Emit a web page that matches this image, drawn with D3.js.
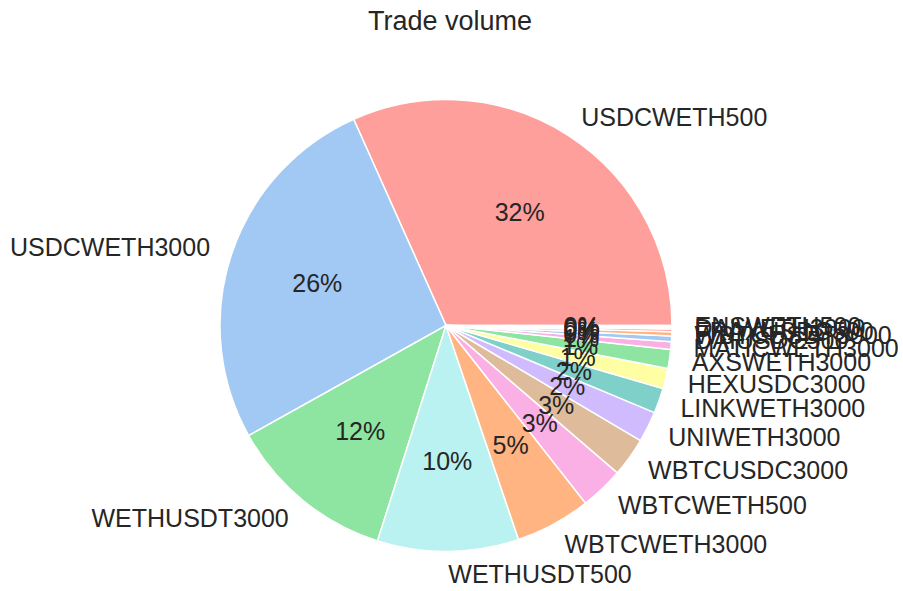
<!DOCTYPE html>
<html>
<head>
<meta charset="utf-8">
<script src="https://cdn.jsdelivr.net/npm/d3@7"></script>
<style>
  body { margin: 0; background: #fff; }
  text { font-family: "Liberation Sans", Arial, sans-serif; fill: #262626; }
</style>
</head>
<body>
<div id="chart"></div>
<script>
const WIDTH = 903
const HEIGHT = 591
const CX = 446, CY = 325.5, R = 226

// data (percent of total trade volume)
const pools = ['USDCWETH500', 'USDCWETH3000', 'WETHUSDT3000', 'WETHUSDT500', 'WBTCWETH3000',
  'WBTCWETH500', 'WBTCUSDC3000', 'UNIWETH3000', 'LINKWETH3000', 'HEXUSDC3000', 'AXSWETH3000',
  'MATICWETH3000', 'DAIUSDC500', 'WBTCUSDT3000', 'FRAXUSDC500', 'DAIWETH3000', 'ENSWETH500']
const volumes = [31.7, 26.4, 12.0, 10.1, 5.4, 3.1, 2.8, 2.2, 1.8, 1.45, 1.36,
  0.55, 0.4, 0.3, 0.2, 0.14, 0.1]
const colors = ['#ff9f9b', '#a1c9f4', '#8de5a1', '#b9f2f0', '#ffb482', '#fab0e4', '#debb9b',
  '#d0bbff', '#7fd0c8', '#fffea3', '#8de5a1', '#fab0e4', '#a1c9f4', '#ffb482', '#ff9f9b',
  '#b9f2f0', '#cfcfcf']

const data = pools.map((p, i) => ({ pool: p, volume: volumes[i] }))
const total = d3.sum(volumes)

const svg = d3.select('#chart').append('svg')
  .attr('width', WIDTH)
  .attr('height', HEIGHT)

svg.append('text')
  .attr('x', 450)
  .attr('y', 21)
  .attr('text-anchor', 'middle')
  .attr('dominant-baseline', 'central')
  .attr('font-size', '27px')
  .text('Trade volume')

const g = svg.append('g').attr('transform', `translate(${CX}, ${CY})`)

// start at 3 o'clock, counterclockwise like matplotlib
const pie = d3.pie()
  .value(d => d.volume)
  .sort(null)
  .startAngle(Math.PI / 2)
  .endAngle(Math.PI / 2 - 2 * Math.PI)

const arcs = pie(data)
const arc = d3.arc().innerRadius(0).outerRadius(R)

g.selectAll('path.slice')
  .data(arcs)
  .enter().append('path')
  .attr('class', 'slice')
  .attr('d', arc)
  .attr('fill', (d, i) => colors[i])
  .attr('stroke', '#fff')
  .attr('stroke-width', 1.5)

const mid = d => (d.startAngle + d.endAngle) / 2

// pool labels at 1.1 r
g.selectAll('text.label')
  .data(arcs)
  .enter().append('text')
  .attr('class', 'label')
  .attr('x', d => Math.sin(mid(d)) * R * 1.1)
  .attr('y', d => -Math.cos(mid(d)) * R * 1.1)
  .attr('text-anchor', d => Math.sin(mid(d)) > 0 ? 'start' : 'end')
  .attr('dominant-baseline', 'central')
  .attr('font-size', '25px')
  .text(d => d.data.pool)

// percentages at 0.6 r
g.selectAll('text.pct')
  .data(arcs)
  .enter().append('text')
  .attr('class', 'pct')
  .attr('x', d => Math.sin(mid(d)) * R * 0.6)
  .attr('y', d => -Math.cos(mid(d)) * R * 0.6)
  .attr('text-anchor', 'middle')
  .attr('dominant-baseline', 'central')
  .attr('font-size', '25px')
  .text(d => d3.format('.0f')(d.data.volume / total * 100) + '%')
</script>
</body>
</html>
